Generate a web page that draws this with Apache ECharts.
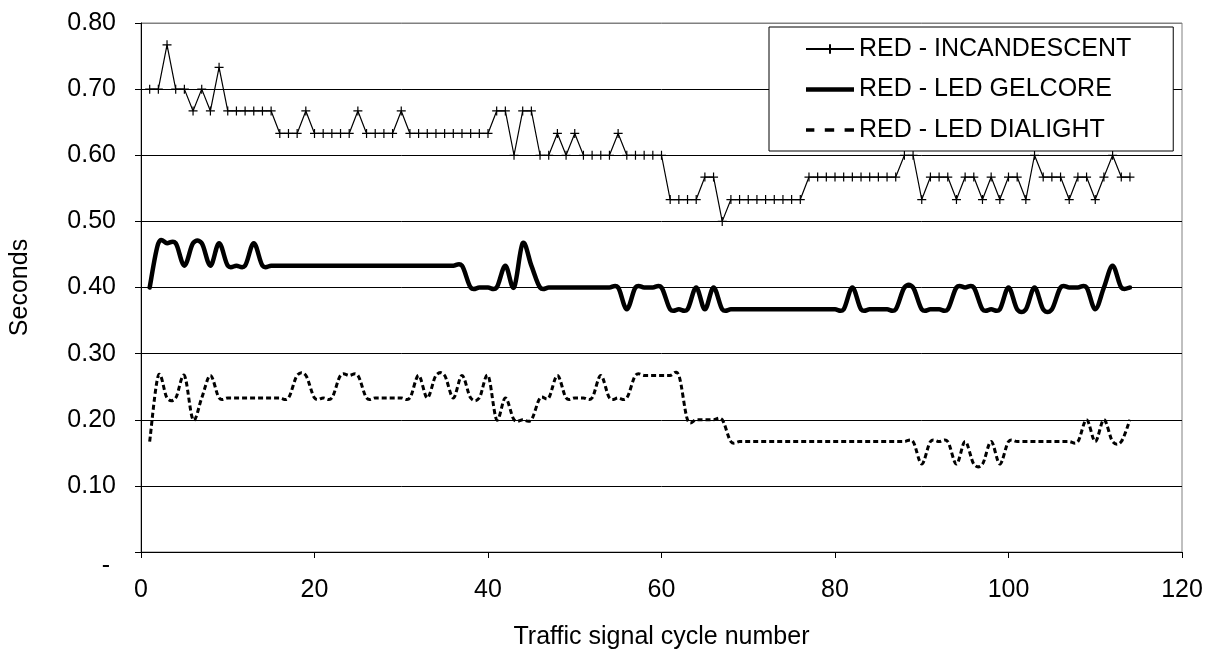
<!DOCTYPE html>
<html>
<head>
<meta charset="utf-8">
<script src="https://cdn.jsdelivr.net/npm/echarts@6/dist/echarts.min.js"></script>
<style>
  html, body { margin: 0; padding: 0; background: #fff; }
  #chart { width: 1214px; height: 655px; }
</style>
</head>
<body>
<div id="chart"></div>
<script>
// Signal-head response time per traffic signal cycle (seconds, 1/30 s resolution)
const seriesNames = ['RED - INCANDESCENT', 'RED - LED GELCORE', 'RED - LED DIALIGHT'];
const cycles = Array.from({ length: 114 }, (_, i) => i + 1);

const incandescent = [
  0.700, 0.700, 0.767, 0.700, 0.700, 0.667, 0.700, 0.667, 0.733, 0.667,
  0.667, 0.667, 0.667, 0.667, 0.667, 0.633, 0.633, 0.633, 0.667, 0.633,
  0.633, 0.633, 0.633, 0.633, 0.667, 0.633, 0.633, 0.633, 0.633, 0.667,
  0.633, 0.633, 0.633, 0.633, 0.633, 0.633, 0.633, 0.633, 0.633, 0.633,
  0.667, 0.667, 0.600, 0.667, 0.667, 0.600, 0.600, 0.633, 0.600, 0.633,
  0.600, 0.600, 0.600, 0.600, 0.633, 0.600, 0.600, 0.600, 0.600, 0.600,
  0.533, 0.533, 0.533, 0.533, 0.567, 0.567, 0.500, 0.533, 0.533, 0.533,
  0.533, 0.533, 0.533, 0.533, 0.533, 0.533, 0.567, 0.567, 0.567, 0.567,
  0.567, 0.567, 0.567, 0.567, 0.567, 0.567, 0.567, 0.600, 0.600, 0.533,
  0.567, 0.567, 0.567, 0.533, 0.567, 0.567, 0.533, 0.567, 0.533, 0.567,
  0.567, 0.533, 0.600, 0.567, 0.567, 0.567, 0.533, 0.567, 0.567, 0.533,
  0.567, 0.600, 0.567, 0.567
];

const gelcore = [
  0.400, 0.467, 0.467, 0.467, 0.433, 0.467, 0.467, 0.433, 0.467, 0.433,
  0.433, 0.433, 0.467, 0.433, 0.433, 0.433, 0.433, 0.433, 0.433, 0.433,
  0.433, 0.433, 0.433, 0.433, 0.433, 0.433, 0.433, 0.433, 0.433, 0.433,
  0.433, 0.433, 0.433, 0.433, 0.433, 0.433, 0.433, 0.400, 0.400, 0.400,
  0.400, 0.433, 0.400, 0.467, 0.433, 0.400, 0.400, 0.400, 0.400, 0.400,
  0.400, 0.400, 0.400, 0.400, 0.400, 0.367, 0.400, 0.400, 0.400, 0.400,
  0.367, 0.367, 0.367, 0.400, 0.367, 0.400, 0.367, 0.367, 0.367, 0.367,
  0.367, 0.367, 0.367, 0.367, 0.367, 0.367, 0.367, 0.367, 0.367, 0.367,
  0.367, 0.400, 0.367, 0.367, 0.367, 0.367, 0.367, 0.400, 0.400, 0.367,
  0.367, 0.367, 0.367, 0.400, 0.400, 0.400, 0.367, 0.367, 0.367, 0.400,
  0.367, 0.367, 0.400, 0.367, 0.367, 0.400, 0.400, 0.400, 0.400, 0.367,
  0.400, 0.433, 0.400, 0.400
];

const dialight = [
  0.167, 0.267, 0.233, 0.233, 0.267, 0.200, 0.233, 0.267, 0.233, 0.233,
  0.233, 0.233, 0.233, 0.233, 0.233, 0.233, 0.233, 0.267, 0.267, 0.233,
  0.233, 0.233, 0.267, 0.267, 0.267, 0.233, 0.233, 0.233, 0.233, 0.233,
  0.233, 0.267, 0.233, 0.267, 0.267, 0.233, 0.267, 0.233, 0.233, 0.267,
  0.200, 0.233, 0.200, 0.200, 0.200, 0.233, 0.233, 0.267, 0.233, 0.233,
  0.233, 0.233, 0.267, 0.233, 0.233, 0.233, 0.267, 0.267, 0.267, 0.267,
  0.267, 0.267, 0.200, 0.200, 0.200, 0.200, 0.200, 0.167, 0.167, 0.167,
  0.167, 0.167, 0.167, 0.167, 0.167, 0.167, 0.167, 0.167, 0.167, 0.167,
  0.167, 0.167, 0.167, 0.167, 0.167, 0.167, 0.167, 0.167, 0.167, 0.133,
  0.167, 0.167, 0.167, 0.133, 0.167, 0.133, 0.133, 0.167, 0.133, 0.167,
  0.167, 0.167, 0.167, 0.167, 0.167, 0.167, 0.167, 0.167, 0.200, 0.167,
  0.200, 0.167, 0.167, 0.200
];

const xAxisTitle = 'Traffic signal cycle number';
const yAxisTitle = 'Seconds';

const FONT = '"Liberation Sans", Arial, sans-serif';
const FONT_SIZE = 25;
const PLUS = 'path://M5,0L5,10M0,5L10,5';

const toPoints = vals => cycles.map((c, i) => [c, vals[i]]);

// Smoothed line drawn as a Catmull-Rom spline through the points,
// each point placed with the chart's own coordinate system.
function splineSeries(name, values, width, dash, cap) {
  return {
    name, type: 'custom',
    data: toPoints(values),
    encode: { x: 0, y: 1 },
    itemStyle: { color: '#000' },
    z: 2,
    renderItem: (params, api) => {
      if (params.dataIndex !== 0) return null;
      const pts = cycles.map((c, i) => api.coord([c, values[i]]));
      const n = pts.length;
      let d = 'M' + pts[0][0] + ',' + pts[0][1];
      for (let i = 0; i < n - 1; i++) {
        const p0 = pts[Math.max(i - 1, 0)];
        const p1 = pts[i];
        const p2 = pts[i + 1];
        const p3 = pts[Math.min(i + 2, n - 1)];
        const c1x = p1[0] + (p2[0] - p0[0]) / 6, c1y = p1[1] + (p2[1] - p0[1]) / 6;
        const c2x = p2[0] - (p3[0] - p1[0]) / 6, c2y = p2[1] - (p3[1] - p1[1]) / 6;
        d += ' C' + c1x + ',' + c1y + ' ' + c2x + ',' + c2y + ' ' + p2[0] + ',' + p2[1];
      }
      return {
        type: 'path',
        silent: true,
        shape: { pathData: d },
        style: {
          fill: 'none', stroke: '#000', lineWidth: width,
          lineDash: dash, lineCap: cap, lineJoin: 'round'
        }
      };
    }
  };
}

const chart = echarts.init(document.getElementById('chart'), null, { renderer: 'canvas' });

chart.setOption({
  animation: false,
  backgroundColor: '#ffffff',
  textStyle: { fontFamily: FONT, color: '#000' },
  grid: {
    left: 137, right: 32, top: 23, bottom: 102,
    show: true, borderColor: '#808080', borderWidth: 1, backgroundColor: 'transparent'
  },
  xAxis: {
    type: 'value', min: 0, max: 120, interval: 20,
    name: xAxisTitle, nameLocation: 'middle', nameGap: 73,
    nameTextStyle: { fontFamily: FONT, fontSize: FONT_SIZE, color: '#000' },
    axisLine: { show: true, onZero: false, lineStyle: { color: '#000', width: 1 } },
    axisTick: { show: true, inside: false, length: 6, lineStyle: { color: '#000' } },
    axisLabel: { fontFamily: FONT, fontSize: FONT_SIZE, color: '#000', margin: 26 },
    splitLine: { show: false }
  },
  yAxis: {
    type: 'value', min: 0, max: 0.8, interval: 0.1,
    name: yAxisTitle, nameLocation: 'middle', nameGap: 108, nameRotate: 90,
    nameTextStyle: { fontFamily: FONT, fontSize: FONT_SIZE, color: '#000' },
    axisLine: { show: true, lineStyle: { color: '#000', width: 1 } },
    axisTick: { show: true, inside: false, length: 6, lineStyle: { color: '#000' } },
    axisLabel: {
      fontFamily: FONT, fontSize: FONT_SIZE, color: '#000', margin: 25,
      formatter: v => (Math.abs(v) < 1e-9 ? '{dash|-}' : v.toFixed(2)),
      rich: { dash: { fontFamily: FONT, fontSize: FONT_SIZE, color: '#000', padding: [28, 6, 0, 0] } }
    },
    splitLine: {
      show: true,
      lineStyle: {
        color: ['#000', '#000', '#000', '#000', '#000', '#000', '#000', '#000', '#808080'],
        width: 1
      }
    }
  },
  legend: {
    orient: 'vertical',
    left: 769, top: 27,
    padding: [8, 42, 7, 36],
    itemGap: 12.5,
    itemWidth: 48, itemHeight: 12,
    borderColor: '#000', borderWidth: 1,
    backgroundColor: '#fff',
    textStyle: { fontFamily: FONT, fontSize: FONT_SIZE, color: '#000', lineHeight: 28 },
    data: [
      { name: seriesNames[0] },
      { name: seriesNames[1], icon: 'path://M0,0H48V4.6H0Z', itemStyle: { color: '#000' } },
      {
        name: seriesNames[2],
        icon: 'path://M0,0H8V3.4H0Z M18,0H27V3.4H18Z M37,0H46V3.4H37Z',
        itemStyle: { color: '#000' }
      }
    ]
  },
  series: [
    {
      name: seriesNames[0], type: 'line',
      data: toPoints(incandescent),
      smooth: false,
      symbol: PLUS, symbolSize: 9, showSymbol: true,
      lineStyle: { color: '#000', width: 1.2 },
      itemStyle: { color: '#000', borderColor: '#000', borderWidth: 1.2 },
      z: 3
    },
    splineSeries(seriesNames[1], gelcore, 4.5, null, 'round'),
    splineSeries(seriesNames[2], dialight, 3, [5, 3], 'butt')
  ]
});
</script>
</body>
</html>
